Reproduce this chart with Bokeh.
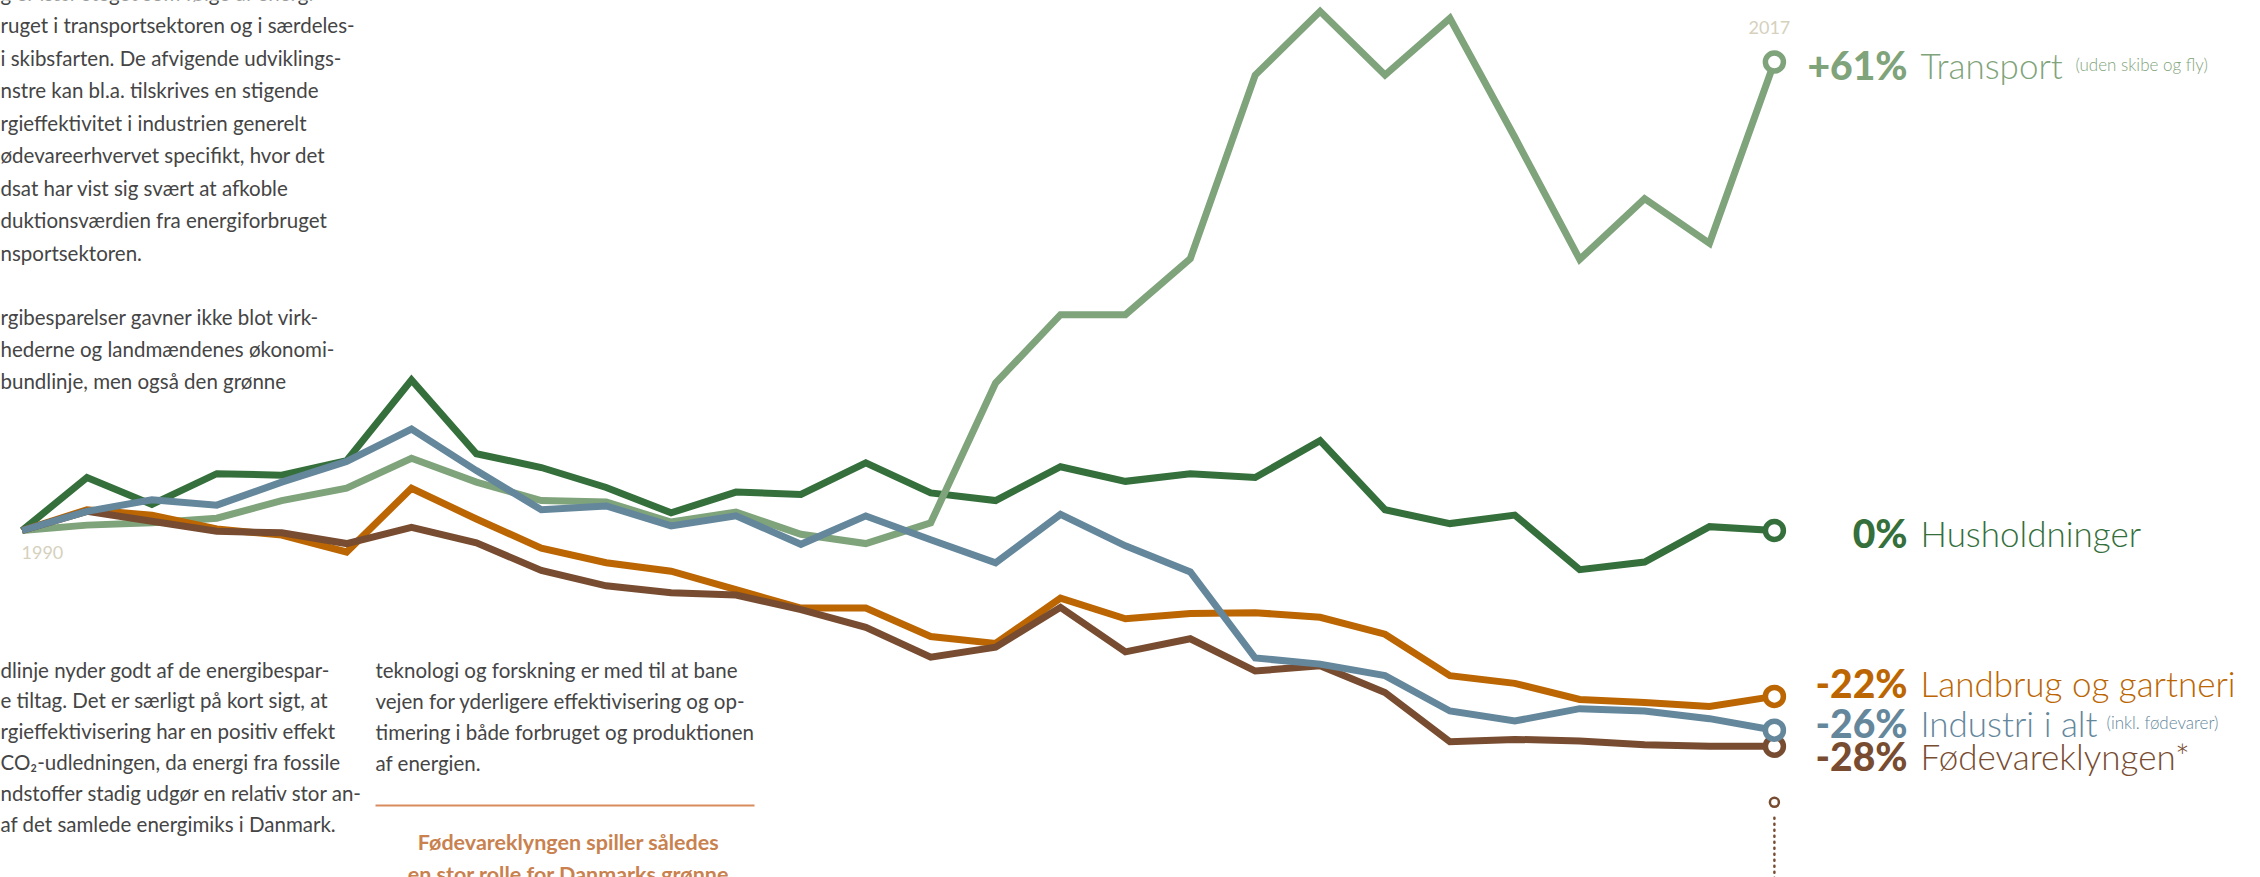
from bokeh.plotting import figure
from bokeh.models import Range1d, Label, BoxAnnotation
from bokeh.embed import file_html
from bokeh.resources import INLINE

# ---------------- data (index, % change vs. 1990) ----------------
years = list(range(1990, 2018))
transport = [0, 0.7, 1.0, 1.6, 3.9, 5.5, 9.4, 6.3, 3.9, 3.7,
             1.1, 2.4, -0.5, -1.7, 1.0, 19.2, 28.1, 28.1, 35.4, 59.3,
             67.6, 59.3, 66.7, 51.2, 35.3, 43.2, 37.4, 61.0]
husholdninger = [0, 6.9, 3.4, 7.4, 7.2, 9.1, 19.6, 10.0, 8.2, 5.6,
                 2.3, 5.0, 4.7, 8.8, 4.9, 3.9, 8.3, 6.4, 7.4, 6.9,
                 11.7, 2.7, 0.9, 2.0, -5.1, -4.1, 0.5, 0.0]
industri = [0, 2.5, 4.0, 3.3, 6.3, 9.0, 13.2, 7.8, 2.7, 3.2,
            0.6, 1.9, -1.8, 1.9, -1.2, -4.2, 2.1, -2.0, -5.4, -16.6,
            -17.4, -18.9, -23.5, -24.8, -23.2, -23.5, -24.5, -26.0]
landbrug = [0, 2.7, 2.0, 0.2, -0.6, -2.8, 5.5, 1.5, -2.3, -4.2,
            -5.3, -7.7, -10.1, -10.1, -13.8, -14.7, -8.8, -11.5, -10.8, -10.7,
            -11.3, -13.5, -18.9, -19.9, -22.0, -22.4, -22.9, -21.6]
foedevare = [0, 2.5, 1.2, -0.1, -0.3, -1.7, 0.4, -1.6, -5.2, -7.2,
             -8.1, -8.4, -10.3, -12.6, -16.5, -15.2, -10.0, -15.8, -14.1, -18.3,
             -17.6, -21.1, -27.5, -27.2, -27.4, -27.9, -28.1, -28.1]

series = [  # name, values, colour   (drawing order bottom -> top)
    ("Husholdninger", husholdninger, "#356f3c"),
    ("Transport", transport, "#7fa37b"),
    ("Landbrug og gartneri", landbrug, "#bb6602"),
    ("Fødevareklyngen", foedevare, "#784c30"),
    ("Industri i alt", industri, "#64879c"),
]

end_labels = [  # pct text, name, small note, colour, baseline y on page
    ("+61%", "Transport", "(uden skibe og fly)", "#7fa37b", 64),
    ("0%", "Husholdninger", "", "#356f3c", 532),
    ("-22%", "Landbrug og gartneri", "", "#bb6602", 682),
    ("-26%", "Industri i alt", "(inkl. fødevarer)", "#64879c", 722),
    ("-28%", "Fødevareklyngen*", "", "#784c30", 755),
]
note_x = {"(uden skibe og fly)": 2075, "(inkl. fødevarer)": 2106}

para1 = ["g er især steget som følge af energi-",
         "ruget i transportsektoren og i særdeles-",
         "i skibsfarten. De afvigende udviklings-",
         "nstre kan bl.a. tilskrives en stigende",
         "rgieffektivitet i industrien generelt",
         "ødevareerhvervet specifikt, hvor det",
         "dsat har vist sig svært at afkoble",
         "duktionsværdien fra energiforbruget",
         "nsportsektoren."]
para2 = ["rgibesparelser gavner ikke blot virk-",
         "hederne og landmændenes økonomi-",
         "bundlinje, men også den grønne"]
para3 = ["dlinje nyder godt af de energibespar-",
         "e tiltag. Det er særligt på kort sigt, at",
         "rgieffektivisering har en positiv effekt",
         "CO\u2082-udledningen, da energi fra fossile",
         "ndstoffer stadig udgør en relativ stor an-",
         "af det samlede energimiks i Danmark."]
para4 = ["teknologi og forskning er med til at bane",
         "vejen for yderligere effektivisering og op-",
         "timering i både forbruget og produktionen",
         "af energien."]
heading = ["Fødevareklyngen spiller således",
           "en stor rolle for Danmarks grønne"]

# ---------------- figure ----------------
W, H = 2260, 877
px_per_year = 64.9
px_per_pct = 7.68
x0 = 1990 - 21.6 / px_per_year
y_top = 530 / px_per_pct

p = figure(width=W, height=H, output_backend="svg", toolbar_location=None,
           x_range=Range1d(x0, x0 + W / px_per_year),
           y_range=Range1d(y_top - H / px_per_pct, y_top),
           x_axis_type=None, y_axis_type=None,
           min_border=0, min_border_left=0, min_border_right=0,
           min_border_top=0, min_border_bottom=0)
p.outline_line_color = None
p.xgrid.visible = False
p.ygrid.visible = False
p.background_fill_color = "white"
p.border_fill_color = "white"

for name, vals, col in series:
    p.line(years, vals, line_width=7, color=col, line_join="miter", line_cap="butt")
for name, vals, col in series:
    p.scatter([years[-1]], [vals[-1]], marker="circle", size=18, fill_color="white",
              line_color=col, line_width=5.5)

# asterisk marker below the lines (annotation)
ANN_Y = -35.4
p.segment(x0=[years[-1]], y0=[ANN_Y - 2.0], x1=[years[-1]], y1=[ANN_Y - 12], line_color="#784c30",
          line_width=2.5, line_dash="1 5", line_cap="round")
p.scatter([years[-1]], [ANN_Y], marker="circle", size=9, fill_color="white",
          line_color="#784c30", line_width=2.5)

FONT = "Lato"
TXT = "#454545"


def add_text(px, py, s, size, color, bold=False, align="left", base="alphabetic", font=FONT):
    p.add_layout(Label(x=px, y=H - py, x_units="screen", y_units="screen",
                       text=s, text_font=font, text_font_size=f"{size}px",
                       text_color=color, text_font_style="bold" if bold else "normal",
                       text_align=align, text_baseline=base))


# year labels
add_text(21, 552, "1990", 18, "#d5d1bd")
add_text(1748, 27, "2017", 18, "#d5d1bd")

# end labels
for pct, name, note, col, by in end_labels:
    add_text(1907, by, pct, 39, col, align="right", font="Lato Black")
    add_text(1920, by, name, 35, col, font="Lato Light")
    if note:
        add_text(note_x[note], by, note, 17, col, font="Lato Light")

# paragraphs
PS = 20.5
for i, s in enumerate(para1):
    add_text(0, -8 + i * 32.5, s, PS, TXT)
for i, s in enumerate(para2):
    add_text(0, 316 + i * 32, s, PS, TXT)
for i, s in enumerate(para3):
    add_text(0, 669 + i * 30.8, s, PS, TXT)
for i, s in enumerate(para4):
    add_text(375, 669 + i * 31, s, PS, TXT)

# rule + heading
p.add_layout(BoxAnnotation(left=375, right=754, top=H - 804, bottom=H - 806,
                           left_units="screen", right_units="screen", top_units="screen",
                           bottom_units="screen", fill_color="#d88b5c", fill_alpha=1,
                           line_color=None))
for i, s in enumerate(heading):
    add_text(568, 841 + i * 32, s, 21.5, "#c9824f", bold=True, align="center")

open("out.html", "w").write(file_html(p, INLINE))
